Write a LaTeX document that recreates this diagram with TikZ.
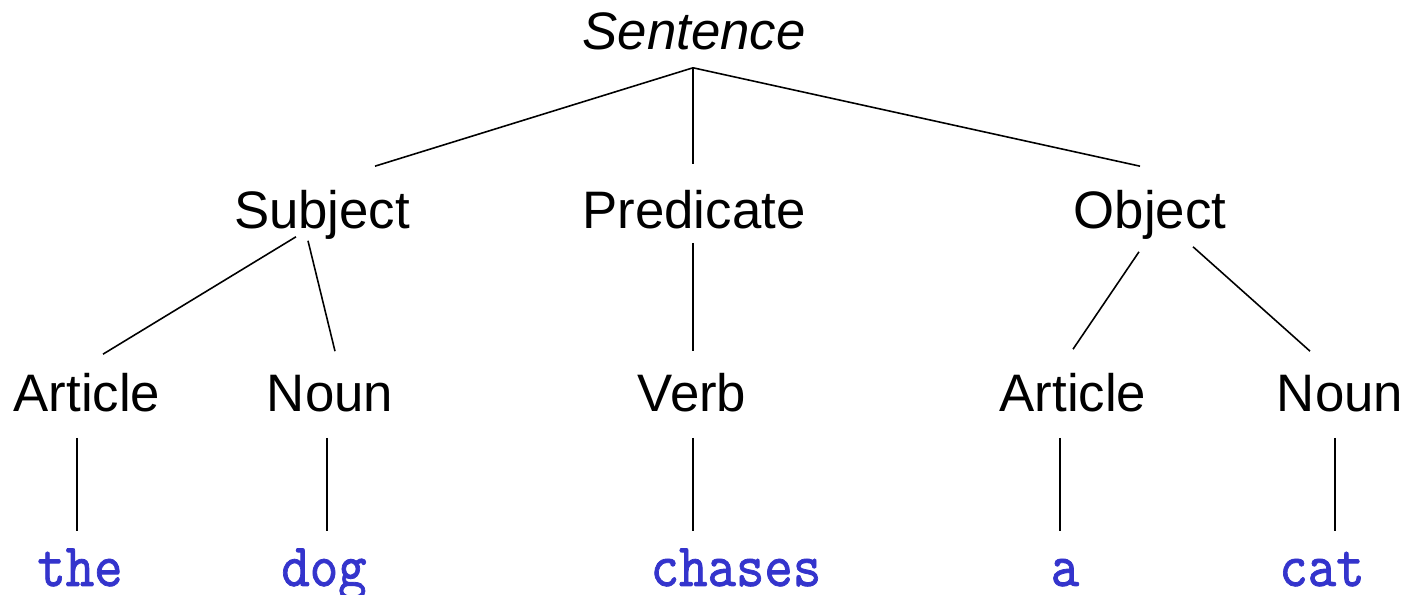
\documentclass[tikz,border=0pt]{standalone}
\usepackage{fontspec}
\usepackage{tikz}
\newfontfamily\treefont{Liberation Sans}
\newfontfamily\wordfont{lmmono10-regular.otf}[BoldFont=lmmono10-regular.otf,BoldFeatures={FakeBold=1.3}]
\definecolor{leafblue}{RGB}{52,52,204}

\begin{document}
\begin{tikzpicture}[x=0.01cm,y=-0.01cm,line width=0.45pt]
\tikzstyle{every node}+=[inner sep=0pt,anchor=base]
\tikzstyle{phrase}=[font=\treefont\fontsize{15}{18}\selectfont,text height=0.39cm,text depth=0.11cm]
\tikzstyle{word}=[font=\wordfont\bfseries\fontsize{17.5}{20}\selectfont,text=leafblue,text height=0.38cm,text depth=0.1cm,xscale=0.88,transform shape]
\useasboundingbox (0,0) rectangle (1410,595);
% phrase labels
\node [phrase,font=\treefont\itshape\fontsize{15}{18}\selectfont] (sent) at (694,50) {Sentence};
\node [phrase] (subj) at (322,229) {Subject};
\node [phrase] (pred) at (694,229) {Predicate};
\node [phrase] (obj) at (1150,229) {Object};
\node [phrase] (art1) at (87,412) {Article};
\node [phrase] (noun1) at (330,412) {Noun};
\node [phrase] (verb) at (692,412) {Verb};
\node [phrase] (art2) at (1073,412) {Article};
\node [phrase] (noun2) at (1340,412) {Noun};
% words
\node [word] (the) at (80,586) {the};
\node [word] (dog) at (324,586) {dog};
\node [word] (chases) at (736,586) {chases};
\node [word] (a) at (1065,586) {a};
\node [word] (cat) at (1322,586) {cat};
% branches
\draw [black] ([shift={(-1,6)}]sent.south) -- ([shift={(53,-23)}]subj.north);
\draw [black] ([shift={(-1,6)}]sent.south) -- ([shift={(-1,-25)}]pred.north);
\draw [black] ([shift={(-1,6)}]sent.south) -- ([shift={(-10,-23)}]obj.north);
\draw [black] ([shift={(-26,-4)}]subj.south) -- ([shift={(16,-18)}]art1.north);
\draw [black] ([shift={(-14,0)}]subj.south) -- ([shift={(5,-21)}]noun1.north);
\draw [black] ([shift={(-1,2)}]pred.south) -- ([shift={(1,-21)}]verb.north);
\draw [black] ([shift={(-11,11)}]obj.south) -- ([shift={(0,-23)}]art2.north);
\draw [black] ([shift={(43,6)}]obj.south) -- ([shift={(-30,-21)}]noun2.north);
\draw [black] ([shift={(-10,14)}]art1.south) -- ([shift={(-3,-16)}]the.north);
\draw [black] ([shift={(-3,14)}]noun1.south) -- ([shift={(3,-16)}]dog.north);
\draw [black] ([shift={(1,14)}]verb.south) -- ([shift={(-43,-16)}]chases.north);
\draw [black] ([shift={(-13,14)}]art2.south) -- ([shift={(-5,-16)}]a.north);
\draw [black] ([shift={(-5,14)}]noun2.south) -- ([shift={(13,-16)}]cat.north);
\end{tikzpicture}
\end{document}
